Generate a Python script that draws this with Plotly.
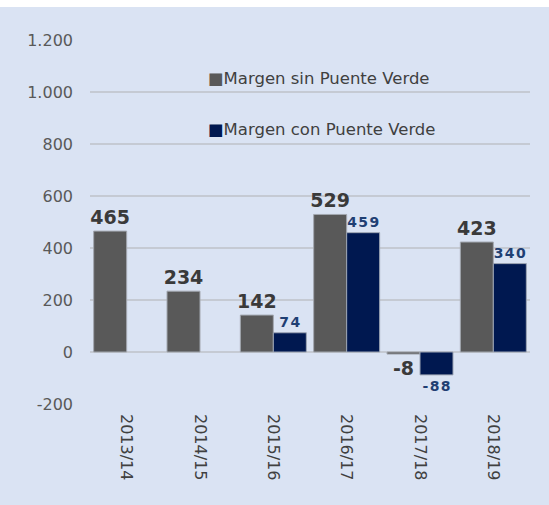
import plotly.graph_objects as go

categories = ["2013/14", "2014/15", "2015/16", "2016/17", "2017/18", "2018/19"]
sin_puente = [465, 234, 142, 529, -8, 423]
con_puente = [None, None, 74, 459, -88, 340]
series_names = ["Margen sin Puente Verde", "Margen con Puente Verde"]
y_ticks = [-200, 0, 200, 400, 600, 800, 1000, 1200]
y_tick_labels = ["-200", "0", "200", "400", "600", "800", "1.000", "1.200"]

GRAY = "#595959"
NAVY = "#001850"
BG = "#DAE3F3"
FONT = "Verdana, DejaVu Sans, sans-serif"

fig = go.Figure()
fig.add_trace(go.Bar(
    x=categories, y=sin_puente, name=series_names[0],
    marker=dict(color=GRAY, line=dict(color="#A3A8B0", width=1)),
    text=[str(v) for v in sin_puente], textposition="outside",
    textfont=dict(family=FONT, size=19, color="#3A3A3A", weight="bold"),
    cliponaxis=False, constraintext="none",
))
fig.add_trace(go.Bar(
    x=categories, y=con_puente, name=series_names[1],
    marker=dict(color=NAVY, line=dict(color="#9DA5B4", width=1)),
    text=["" if v is None else "\u200a".join(str(v)) for v in con_puente],
    textposition="outside",
    textfont=dict(family=FONT, size=14, color="#1F3F73", weight="bold"),
    cliponaxis=False, constraintext="none",
))

fig.update_layout(
    width=549, height=505,
    margin=dict(l=90, r=19, t=40, b=101),
    paper_bgcolor=BG, plot_bgcolor=BG,
    barmode="group", bargap=0.1, bargroupgap=0,
    showlegend=False,
    separators=",.",
    font=dict(family=FONT, color="#595959"),
    xaxis=dict(
        type="category", tickangle=90, showgrid=False, zeroline=False,
        showline=False, ticks="", ticklabelstandoff=9,
        tickfont=dict(family=FONT, size=16, color="#404040"),
    ),
    yaxis=dict(
        range=[-200, 1200], tickvals=y_ticks, ticktext=y_tick_labels,
        showgrid=True, gridcolor="#C5CAD3", gridwidth=2,
        zeroline=True, zerolinecolor="#C5CAD3", zerolinewidth=2,
        showline=False, ticks="", ticklabelstandoff=16,
        tickfont=dict(family=FONT, size=16, color="#595959"),
    ),
    shapes=[dict(type="rect", xref="paper", yref="paper",
                 x0=-0.3, x1=1.1, y0=1 + 33 / 364, y1=1.2,
                 fillcolor="white", line=dict(width=0), layer="above")],
    annotations=[
        dict(xref="paper", yref="paper", x=(206 - 90) / 440, y=(404 - 79) / 364,
             xanchor="left", yanchor="middle", showarrow=False,
             text=f'<span style="color:{GRAY}">■</span>{series_names[0]}',
             font=dict(family=FONT, size=16.5, color="#404040")),
        dict(xref="paper", yref="paper", x=(206 - 90) / 440, y=(404 - 129) / 364,
             xanchor="left", yanchor="middle", showarrow=False,
             text=f'<span style="color:{NAVY}">■</span>{series_names[1]}',
             font=dict(family=FONT, size=16.5, color="#404040")),
    ],
)

fig.write_html(
    "out.html",
    config={"displayModeBar": False},
    post_script="document.body.style.margin='0';document.body.style.overflow='hidden';document.documentElement.style.overflow='hidden';",
)
